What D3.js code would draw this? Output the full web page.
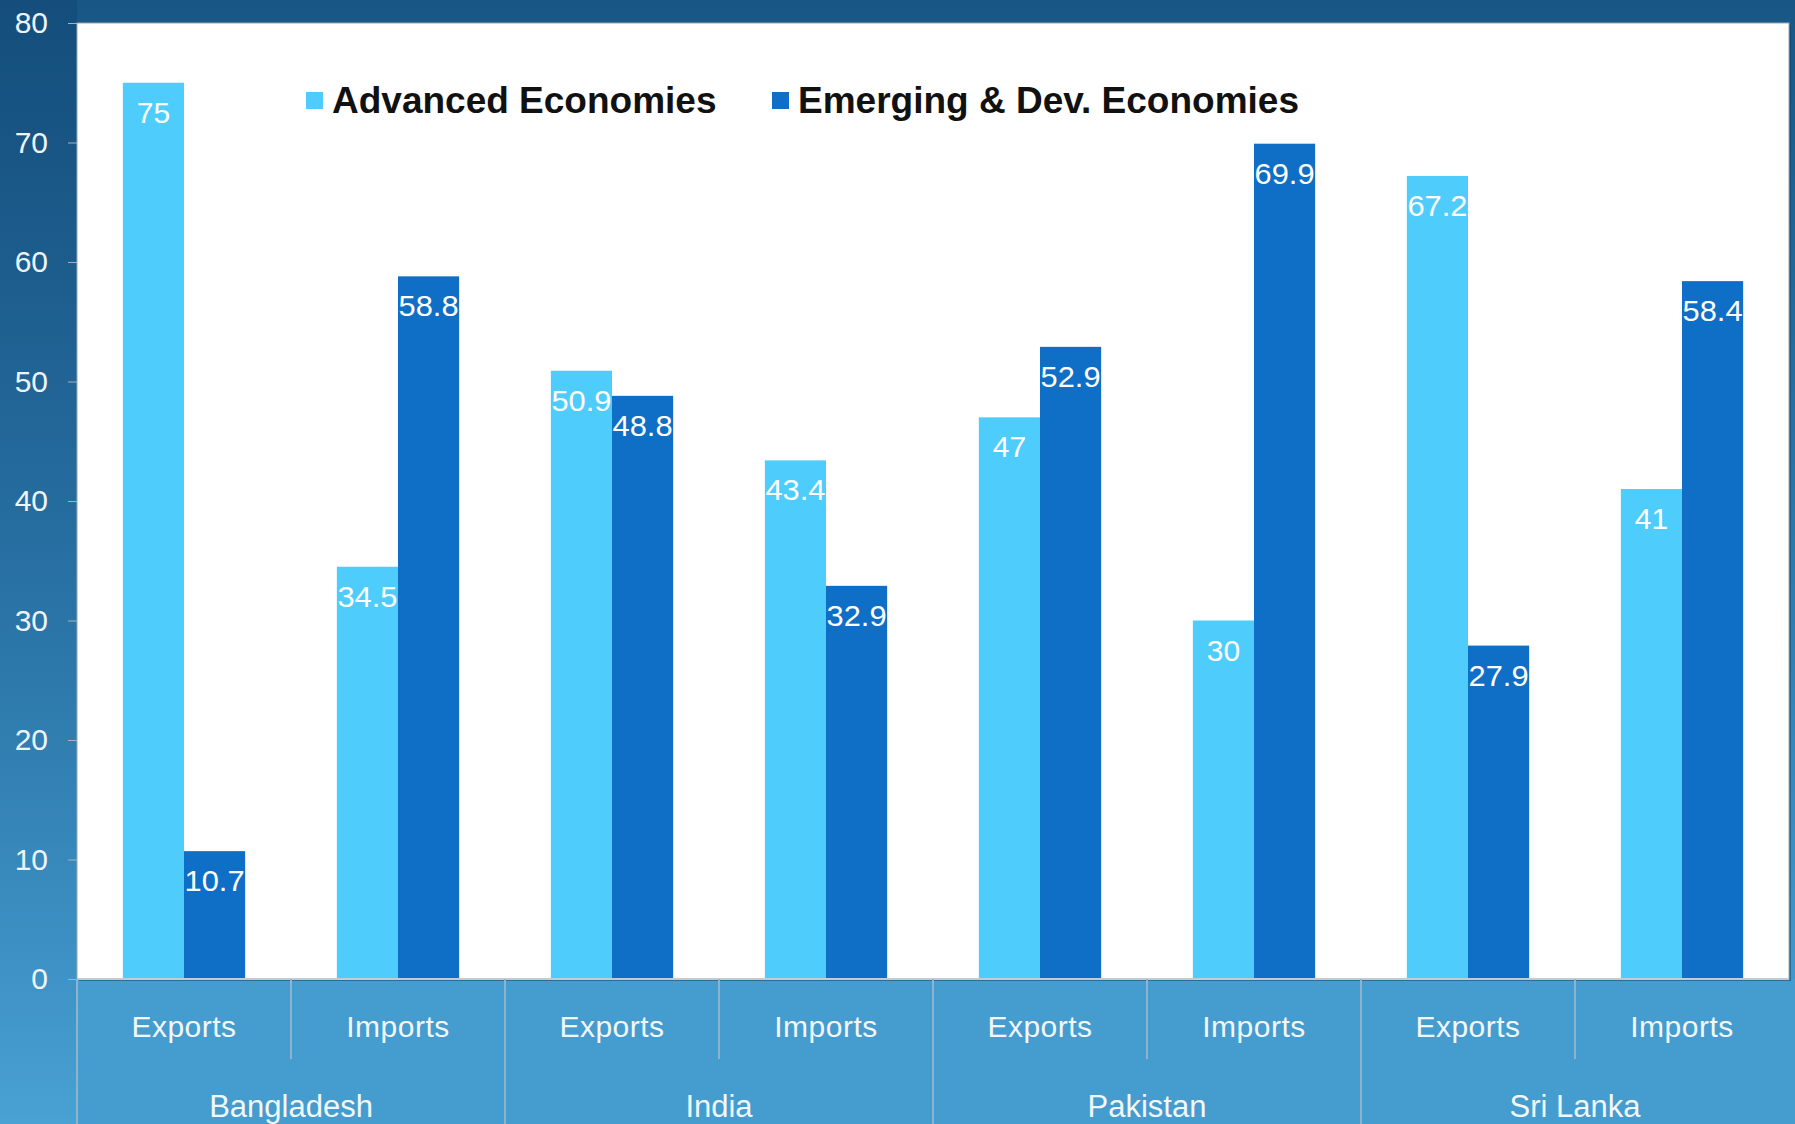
<!DOCTYPE html>
<html>
<head>
<meta charset="utf-8">
<script src="https://cdn.jsdelivr.net/npm/d3@7"></script>
<style>
  html, body { margin: 0; padding: 0; overflow: hidden; }
  svg { display: block; }
</style>
</head>
<body>
<svg id="chart" width="1795" height="1124"></svg>
<script>
// ---- data ----
const countries = ["Bangladesh", "India", "Pakistan", "Sri Lanka"];
const flows = ["Exports", "Imports"];
const seriesNames = ["Advanced Economies", "Emerging & Dev. Economies"];
const advanced = [75, 34.5, 50.9, 43.4, 47, 30, 67.2, 41];
const emerging = [10.7, 58.8, 48.8, 32.9, 52.9, 69.9, 27.9, 58.4];
const yTicks = [0, 10, 20, 30, 40, 50, 60, 70, 80];

const colors = ["#4ecdfc", "#0f6ec5"];

const W = 1795, H = 1124;
const M = { left: 77, right: 6, top: 23, bottom: 145 };
const plotR = W - M.right, plotB = H - M.bottom;

const svg = d3.select("#chart");
const defs = svg.append("defs");

// background gradient
const g1 = defs.append("linearGradient").attr("id", "bg").attr("x1", 0).attr("y1", 0).attr("x2", 0).attr("y2", 1);
g1.append("stop").attr("offset", "0%").attr("stop-color", "#185685");
g1.append("stop").attr("offset", "55%").attr("stop-color", "#2f7eb2");
g1.append("stop").attr("offset", "100%").attr("stop-color", "#4aa3d6");
svg.append("rect").attr("width", W).attr("height", H).attr("fill", "url(#bg)");

const g2 = defs.append("linearGradient").attr("id", "bgL").attr("x1", 0).attr("y1", 0).attr("x2", 0).attr("y2", 1);
g2.append("stop").attr("offset", "0%").attr("stop-color", "#0b3a66").attr("stop-opacity", 0.3);
g2.append("stop").attr("offset", "100%").attr("stop-color", "#0b3a66").attr("stop-opacity", 0.02);
svg.append("rect").attr("width", M.left).attr("height", H).attr("fill", "url(#bgL)");

// category band area
svg.append("rect").attr("x", M.left).attr("y", plotB).attr("width", W - M.left).attr("height", H - plotB)
  .attr("fill", "#459ccf");

// shadow + white panel
svg.append("rect").attr("x", M.left + 2).attr("y", M.top + 2).attr("width", plotR - M.left).attr("height", plotB - M.top)
  .attr("fill", "#0d3d63").attr("opacity", 0.5);
svg.append("rect").attr("x", M.left).attr("y", M.top).attr("width", plotR - M.left).attr("height", plotB - M.top)
  .attr("fill", "#ffffff").attr("stroke", "#9aa7b2").attr("stroke-width", 1);

// scales
const cats = [];
countries.forEach(c => flows.forEach(f => cats.push(c + "|" + f)));
const x = d3.scaleBand().domain(cats).range([M.left, plotR]).padding(0);
const xs = d3.scaleBand().domain(seriesNames).range([0, x.bandwidth()]).paddingInner(0).paddingOuter(0.75);
const y = d3.scaleLinear().domain([0, 80]).range([plotB, M.top]);

// y axis
const yAxis = svg.append("g").attr("transform", `translate(${M.left},0)`)
  .call(d3.axisLeft(y).tickValues(yTicks).tickSize(9).tickPadding(20));
yAxis.select(".domain").remove();
yAxis.selectAll(".tick line").attr("stroke", "#9fb3c4");
yAxis.selectAll(".tick text").attr("fill", "#eef4f8").attr("font-family", "Liberation Sans, Arial, sans-serif")
  .attr("font-size", 30);

// bars
const rows = cats.map((k, i) => ({ key: k, vals: [advanced[i], emerging[i]] }));
const groups = svg.append("g").selectAll("g").data(rows).join("g")
  .attr("transform", d => `translate(${x(d.key)},0)`);
groups.selectAll("rect").data(d => d.vals.map((v, j) => ({ v, s: seriesNames[j], j }))).join("rect")
  .attr("x", d => xs(d.s)).attr("width", xs.bandwidth())
  .attr("y", d => y(d.v)).attr("height", d => y(0) - y(d.v))
  .attr("fill", d => colors[d.j]);
groups.selectAll("text").data(d => d.vals.map((v, j) => ({ v, s: seriesNames[j], j }))).join("text")
  .attr("x", d => xs(d.s) + xs.bandwidth() / 2).attr("y", d => y(d.v) + 40)
  .attr("text-anchor", "middle").attr("fill", "#ffffff")
  .attr("font-family", "Liberation Sans, Arial, sans-serif").attr("font-size", 30)
  .attr("textLength", d => String(d.v).length > 2 ? 60 : null)
  .attr("lengthAdjust", "spacingAndGlyphs")
  .text(d => d.v);

// x axis baseline
svg.append("line").attr("x1", M.left).attr("x2", plotR).attr("y1", plotB).attr("y2", plotB)
  .attr("stroke", "#c3ccd4").attr("stroke-width", 2);

// category separators and labels
const sepColor = "#8cb3cf";
cats.forEach((k, i) => {
  const x0 = x(k);
  const isCountryEdge = i % 2 === 0;
  svg.append("line").attr("x1", x0).attr("x2", x0).attr("y1", plotB).attr("y2", isCountryEdge ? H : plotB + 80)
    .attr("stroke", sepColor).attr("stroke-width", 2);
});

svg.append("g").selectAll("text").data(cats).join("text")
  .attr("x", d => x(d) + x.bandwidth() / 2).attr("y", plotB + 58)
  .attr("text-anchor", "middle").attr("fill", "#f2f7fa")
  .attr("font-family", "Liberation Sans, Arial, sans-serif").attr("font-size", 30)
  .attr("letter-spacing", 0.5)
  .text(d => d.split("|")[1]);

svg.append("g").selectAll("text").data(countries).join("text")
  .attr("x", c => x(c + "|" + flows[0]) + x.bandwidth()).attr("y", plotB + 138)
  .attr("text-anchor", "middle").attr("fill", "#f2f7fa")
  .attr("font-family", "Liberation Sans, Arial, sans-serif").attr("font-size", 31)
  .text(c => c);

// legend
const legend = svg.append("g");
const legX = [306, 772];
seriesNames.forEach((s, i) => {
  legend.append("rect").attr("x", legX[i]).attr("y", 92).attr("width", 17).attr("height", 17).attr("fill", colors[i]);
  legend.append("text").attr("x", legX[i] + 26).attr("y", 113)
    .attr("font-family", "Liberation Sans, Arial, sans-serif").attr("font-weight", "bold").attr("font-size", 37)
    .attr("fill", "#111").text(s);
});
</script>
</body>
</html>
